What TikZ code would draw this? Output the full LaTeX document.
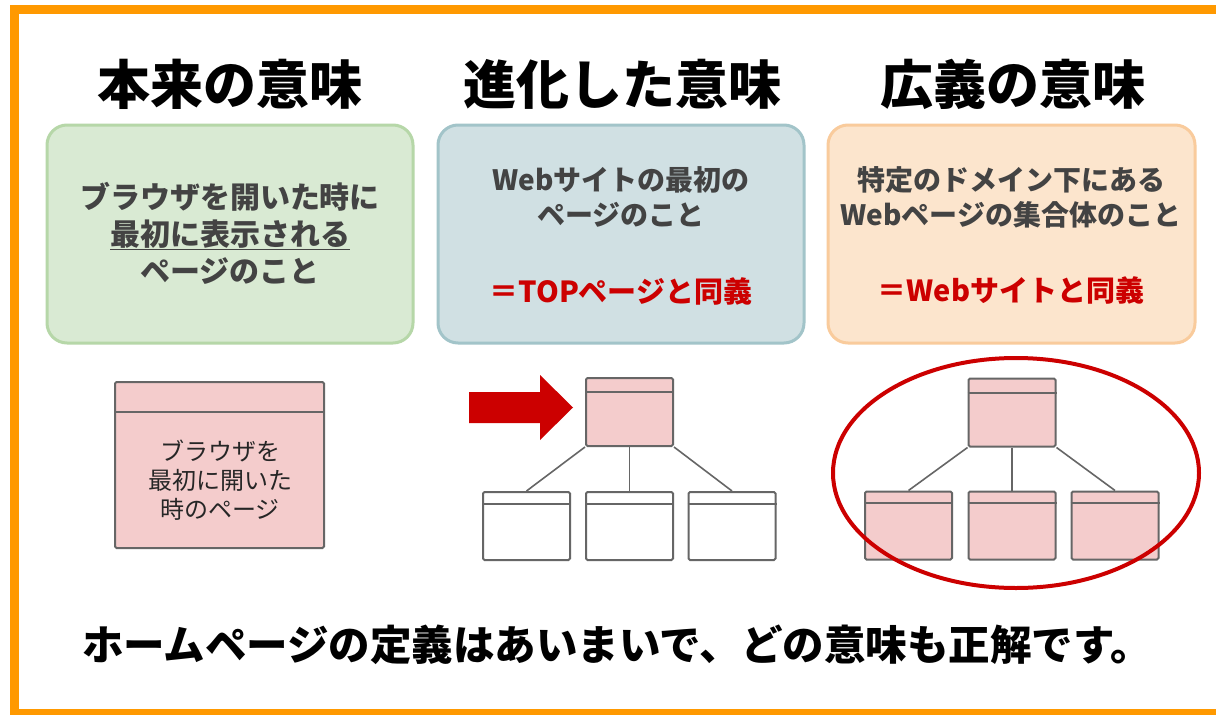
\documentclass[tikz,border=0pt]{standalone}
\usepackage{fontspec}
\newfontfamily\jp{Noto Sans CJK JP}
\usetikzlibrary{shapes.geometric}
\definecolor{frameorange}{HTML}{FF9900}
\definecolor{gfill}{HTML}{D9EAD3}
\definecolor{gline}{HTML}{B6D7A8}
\definecolor{bfill}{HTML}{D0E0E3}
\definecolor{bline}{HTML}{A2C4C9}
\definecolor{ofill}{HTML}{FCE5CD}
\definecolor{oline}{HTML}{F9CB9C}
\definecolor{pagefill}{HTML}{F4CCCC}
\definecolor{pageline}{HTML}{666666}
\definecolor{darkred}{HTML}{CC0000}
\definecolor{txtgray}{HTML}{434343}
\tikzset{
  title/.style={inner sep=0pt, text=black, font={\jp\bfseries\fontsize{53}{60}\selectfont}},
  infobox/.style={rectangle, rounded corners=20pt, line width=3pt, minimum width=366pt, minimum height=218pt, inner sep=0pt},
  boxtext/.style={inner sep=0pt, align=center, text=txtgray, font={\jp\bfseries\fontsize{30}{37}\selectfont}},
  boxtextsm/.style={inner sep=0pt, align=center, text=txtgray, font={\jp\bfseries\fontsize{28}{35}\selectfont}},
  redtext/.style={inner sep=0pt, align=center, text=darkred, font={\jp\bfseries\fontsize{29}{35}\selectfont}},
  pagebox/.style={rectangle, draw=pageline, line width=2pt, rounded corners=1.5pt, inner sep=0pt, minimum width=87pt, minimum height=68pt},
  pinkpage/.style={pagebox, fill=pagefill},
  whitepage/.style={pagebox, fill=white},
  headerline/.style={draw=pageline, line width=2pt},
  link/.style={draw=pageline, line width=1.6pt},
  pagetext/.style={inner sep=0pt, align=center, text=black!85, font={\jp\fontsize{24}{29}\selectfont}},
  bottomtext/.style={inner sep=0pt, text=black, font={\jp\bfseries\fontsize{41.5}{48}\selectfont}},
}
\begin{document}
\begin{tikzpicture}[x=1pt, y=-1pt]
\useasboundingbox (0,0) rectangle (1216,715);
\fill[white] (0,0) rectangle (1216,715);
% frame
\draw[frameorange, line width=9pt] (1240,9.5) -- (14,9.5) -- (14,713) -- (1240,713);

% titles
\node[title] (t1) at (230,84) {本来の意味};
\node[title] (t2) at (622,84) {進化した意味};
\node[title] (t3) at (1013,84) {広義の意味};

% boxes
\node[infobox, fill=gfill, draw=gline] (b1) at (230,234) {};
\node[infobox, fill=bfill, draw=bline] (b2) at (621,234) {};
\node[infobox, fill=ofill, draw=oline, minimum width=367pt] (b3) at (1011.5,234) {};

\node[boxtext] (b1t) at (230,233) {ブラウザを開いた時に\\\underline{最初に表示される}\\ページのこと};
\node[boxtextsm] (b2t) at (621,197) {Webサイトの最初の\\ページのこと};
\node[redtext] (b2r) at (621,291) {＝TOPページと同義};
\node[boxtextsm] (b3t) at (1011,197) {特定のドメイン下にある\\Webページの集合体のこと};
\node[redtext] (b3r) at (1011,290) {＝Webサイトと同義};

% left page
\node[pinkpage, minimum width=209pt, minimum height=166pt] (p0) at (219.5,465) {};
\draw[headerline] ([yshift=-31pt]p0.north west) -- ([yshift=-31pt]p0.north east);
\node[pagetext] (p0t) at (220,480) {ブラウザを\\最初に開いた\\時のページ};

% middle tree
\fill[darkred] (469,392) -- (540,392) -- (540,375) -- (573,407.5) -- (540,440) -- (540,423) -- (469,423) -- cycle;
\node[pinkpage] (m0) at (629.5,412) {};
\node[whitepage] (m1) at (526.5,526) {};
\node[whitepage] (m2) at (629.5,526) {};
\node[whitepage] (m3) at (732,526) {};
\foreach \n in {m0} {\draw[headerline] ([yshift=-15pt]\n.north west) -- ([yshift=-15pt]\n.north east);}
\foreach \n in {m1,m2,m3} {\draw[headerline] ([yshift=-13pt]\n.north west) -- ([yshift=-13pt]\n.north east);}
\draw[link] (m0.south west) -- (m1.north);
\draw[link] (m0.south) -- (m2.north);
\draw[link] (m0.south east) -- (m3.north);

% right tree
\node[pinkpage] (r0) at (1012,412.5) {};
\node[pinkpage] (r1) at (908.5,525.5) {};
\node[pinkpage] (r2) at (1012,525.5) {};
\node[pinkpage] (r3) at (1115,525.5) {};
\foreach \n in {r0} {\draw[headerline] ([yshift=-15pt]\n.north west) -- ([yshift=-15pt]\n.north east);}
\foreach \n in {r1,r2,r3} {\draw[headerline] ([yshift=-12pt]\n.north west) -- ([yshift=-12pt]\n.north east);}
\draw[link] (r0.south west) -- (r1.north);
\draw[link] (r0.south) -- (r2.north);
\draw[link] (r0.south east) -- (r3.north);
\draw[darkred, line width=4pt] (1016,473) ellipse [x radius=183pt, y radius=115pt];

% bottom statement
\node[bottomtext] (note) at (617,645) {ホームページの定義はあいまいで、どの意味も正解です。};
\end{tikzpicture}
\end{document}
